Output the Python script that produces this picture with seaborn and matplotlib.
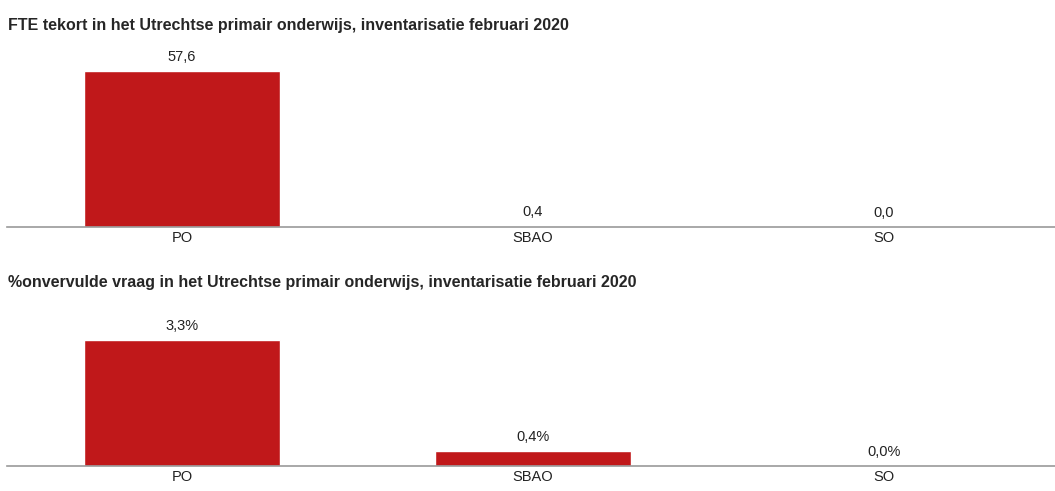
import numpy as np
import pandas as pd
import matplotlib
matplotlib.use('Agg')
import matplotlib.pyplot as plt
import seaborn as sns

# -------------------- DATA --------------------
CATEGORIES = ['PO', 'SBAO', 'SO']
FTE_TEKORT = [57.6, 0.4, 0.0]
PCT_ONVERVULD = [3.3, 0.4, 0.0]

TITLE_TOP = 'FTE tekort in het Utrechtse primair onderwijs, inventarisatie februari 2020'
TITLE_BOTTOM = '%onvervulde vraag in het Utrechtse primair onderwijs, inventarisatie februari 2020'

BAR_COLOR = '#C0181A'
FONT = ['Liberation Sans', 'DejaVu Sans']

sns.set_style('white')
plt.rcParams['font.family'] = FONT


def draw_panel(ax, values, fmt, ymax):
    df = pd.DataFrame({'cat': CATEGORIES, 'val': values})
    sns.barplot(data=df, x='cat', y='val', color=BAR_COLOR, width=0.56,
                saturation=1, ax=ax)
    labels = [fmt(v) for v in values]
    ax.bar_label(ax.containers[0], labels=labels, padding=5, fontsize=10.5, color='#222222')
    ax.set_ylim(0, ymax)
    ax.set_xlim(-0.5, 2.5)
    ax.set_xlabel('')
    ax.set_ylabel('')
    ax.set_yticks([])
    for side in ['top', 'left', 'right']:
        ax.spines[side].set_visible(False)
    ax.spines['bottom'].set_color('#999999')
    ax.spines['bottom'].set_linewidth(1.2)
    ax.tick_params(axis='x', length=0, pad=3, labelsize=10.5, colors='#222222')


fig = plt.figure(figsize=(10.55, 4.91), dpi=100)
ax1 = fig.add_axes([0.0062, 0.5377, 0.998, 0.3707])
ax2 = fig.add_axes([0.0062, 0.0509, 0.998, 0.3076])

draw_panel(ax1, FTE_TEKORT, lambda v: f'{v:.1f}'.replace('.', ','), 67.2)
draw_panel(ax2, PCT_ONVERVULD, lambda v: f'{v:.1f}%'.replace('.', ','), 3.95)

fig.text(0.0076, 0.949, TITLE_TOP, fontsize=11.5, fontweight='bold', va='center', ha='left')
fig.text(0.0076, 0.424, TITLE_BOTTOM, fontsize=11.5, fontweight='bold', va='center', ha='left')

fig.savefig('out.png', dpi=100)
